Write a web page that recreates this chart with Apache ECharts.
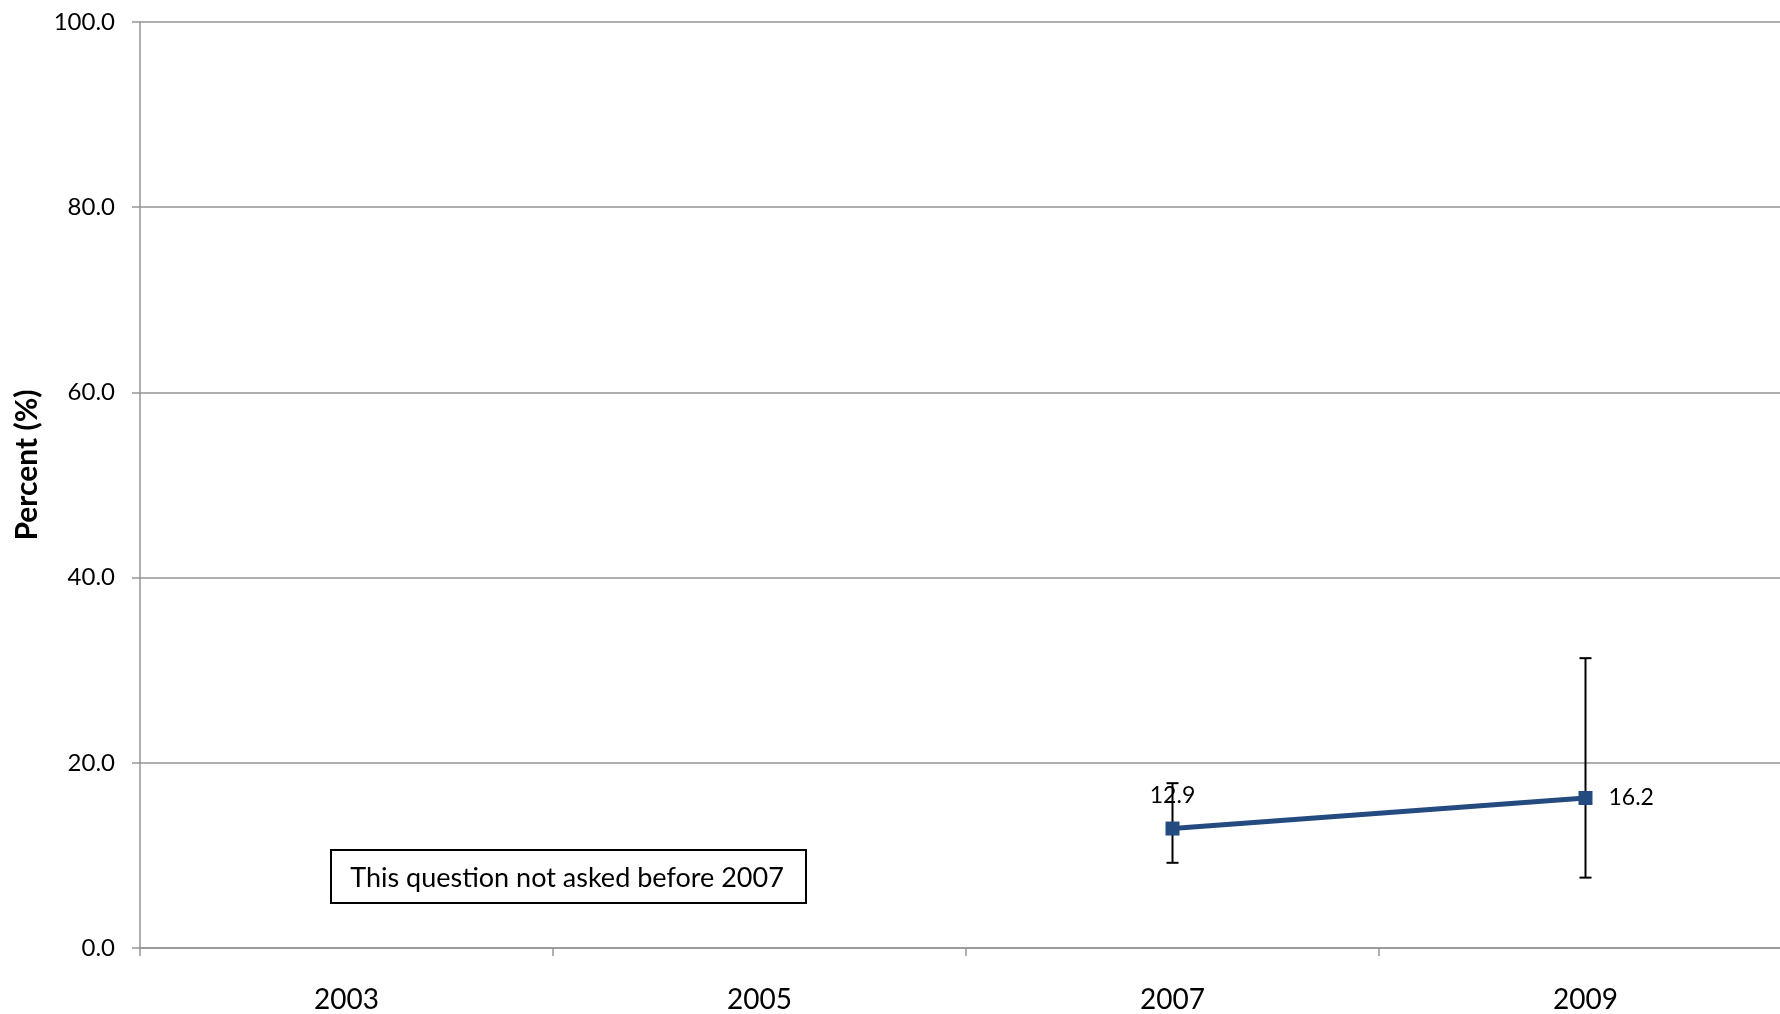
<!DOCTYPE html>
<html>
<head>
<meta charset="utf-8">
<script src="https://cdn.jsdelivr.net/npm/echarts@6/dist/echarts.min.js"></script>
<style>html,body{margin:0;padding:0;background:#fff;overflow:hidden;width:1780px;height:1014px}#c{width:1800px;height:1014px}</style>
</head>
<body>
<div id="c"></div>
<script>
const categories = ['2003', '2005', '2007', '2009'];
const values = [null, null, 12.9, 16.2];
const errLow = [null, null, 9.2, 7.6];
const errHigh = [null, null, 17.8, 31.3];
const yTicks = [0, 20, 40, 60, 80, 100];
const noteText = 'This question not asked before 2007';

const font = 'Lato, "Open Sans", sans-serif';
const chart = echarts.init(document.getElementById('c'));
const errData = categories.map((c, i) => [i, errLow[i], errHigh[i]]).filter(d => d[1] != null);

chart.setOption({
  animation: false,
  grid: { left: 140, top: 22, right: 8, bottom: 66 },
  xAxis: {
    type: 'category',
    data: categories,
    boundaryGap: true,
    axisLine: { lineStyle: { color: '#959595', width: 1.5 } },
    axisTick: { show: true, length: 8, lineStyle: { color: '#959595', width: 1.5 } },
    axisLabel: { color: '#000', fontSize: 28, fontFamily: font, margin: 38 }
  },
  yAxis: {
    type: 'value',
    min: yTicks[0], max: yTicks[yTicks.length - 1], interval: 20,
    name: 'Percent (%)',
    nameLocation: 'middle',
    nameGap: 98,
    nameTextStyle: { color: '#000', fontSize: 30, fontWeight: 'bold', fontFamily: font, padding: [0, 0, 0, 40] },
    axisLine: { show: true, lineStyle: { color: '#959595', width: 1.5 } },
    axisTick: { show: true, length: 8, lineStyle: { color: '#959595', width: 1.5 } },
    splitLine: { lineStyle: { color: '#959595', width: 1.5 } },
    axisLabel: { color: '#000', fontSize: 24, fontFamily: font, margin: 25, formatter: v => v.toFixed(1) }
  },
  series: [
    {
      type: 'custom',
      z: 3,
      data: errData,
      renderItem: (params, api) => {
        const x = api.value(0);
        const lo = api.coord([x, api.value(1)]);
        const hi = api.coord([x, api.value(2)]);
        const hw = 6;
        const st = { stroke: '#000', lineWidth: 2 };
        return {
          type: 'group',
          children: [
            { type: 'line', shape: { x1: lo[0], y1: lo[1], x2: hi[0], y2: hi[1] }, style: st },
            { type: 'line', shape: { x1: lo[0] - hw, y1: lo[1], x2: lo[0] + hw, y2: lo[1] }, style: st },
            { type: 'line', shape: { x1: hi[0] - hw, y1: hi[1], x2: hi[0] + hw, y2: hi[1] }, style: st }
          ]
        };
      }
    },
    {
      type: 'line',
      z: 4,
      data: values.map((v, i) => {
        if (v == null) return null;
        const lbl = i === 2 ? { position: 'top', distance: 14 } : { position: 'right', distance: 16 };
        return { value: v, label: lbl };
      }),
      connectNulls: false,
      symbol: 'rect',
      symbolSize: 14,
      lineStyle: { color: '#244B7F', width: 5 },
      itemStyle: { color: '#244B7F' },
      label: { show: true, color: '#000', fontSize: 23, fontFamily: font, formatter: p => p.value.toFixed(1) }
    }
  ],
  graphic: [
    {
      type: 'rect',
      left: 330, top: 849,
      shape: { width: 475, height: 53 },
      style: { fill: '#fff', stroke: '#000', lineWidth: 2 },
      z: 10
    },
    {
      type: 'text',
      x: 567, y: 878,
      style: { text: noteText, fill: '#000', font: '27px ' + font, textAlign: 'center', textVerticalAlign: 'middle' },
      z: 11
    }
  ]
});
</script>
</body>
</html>
